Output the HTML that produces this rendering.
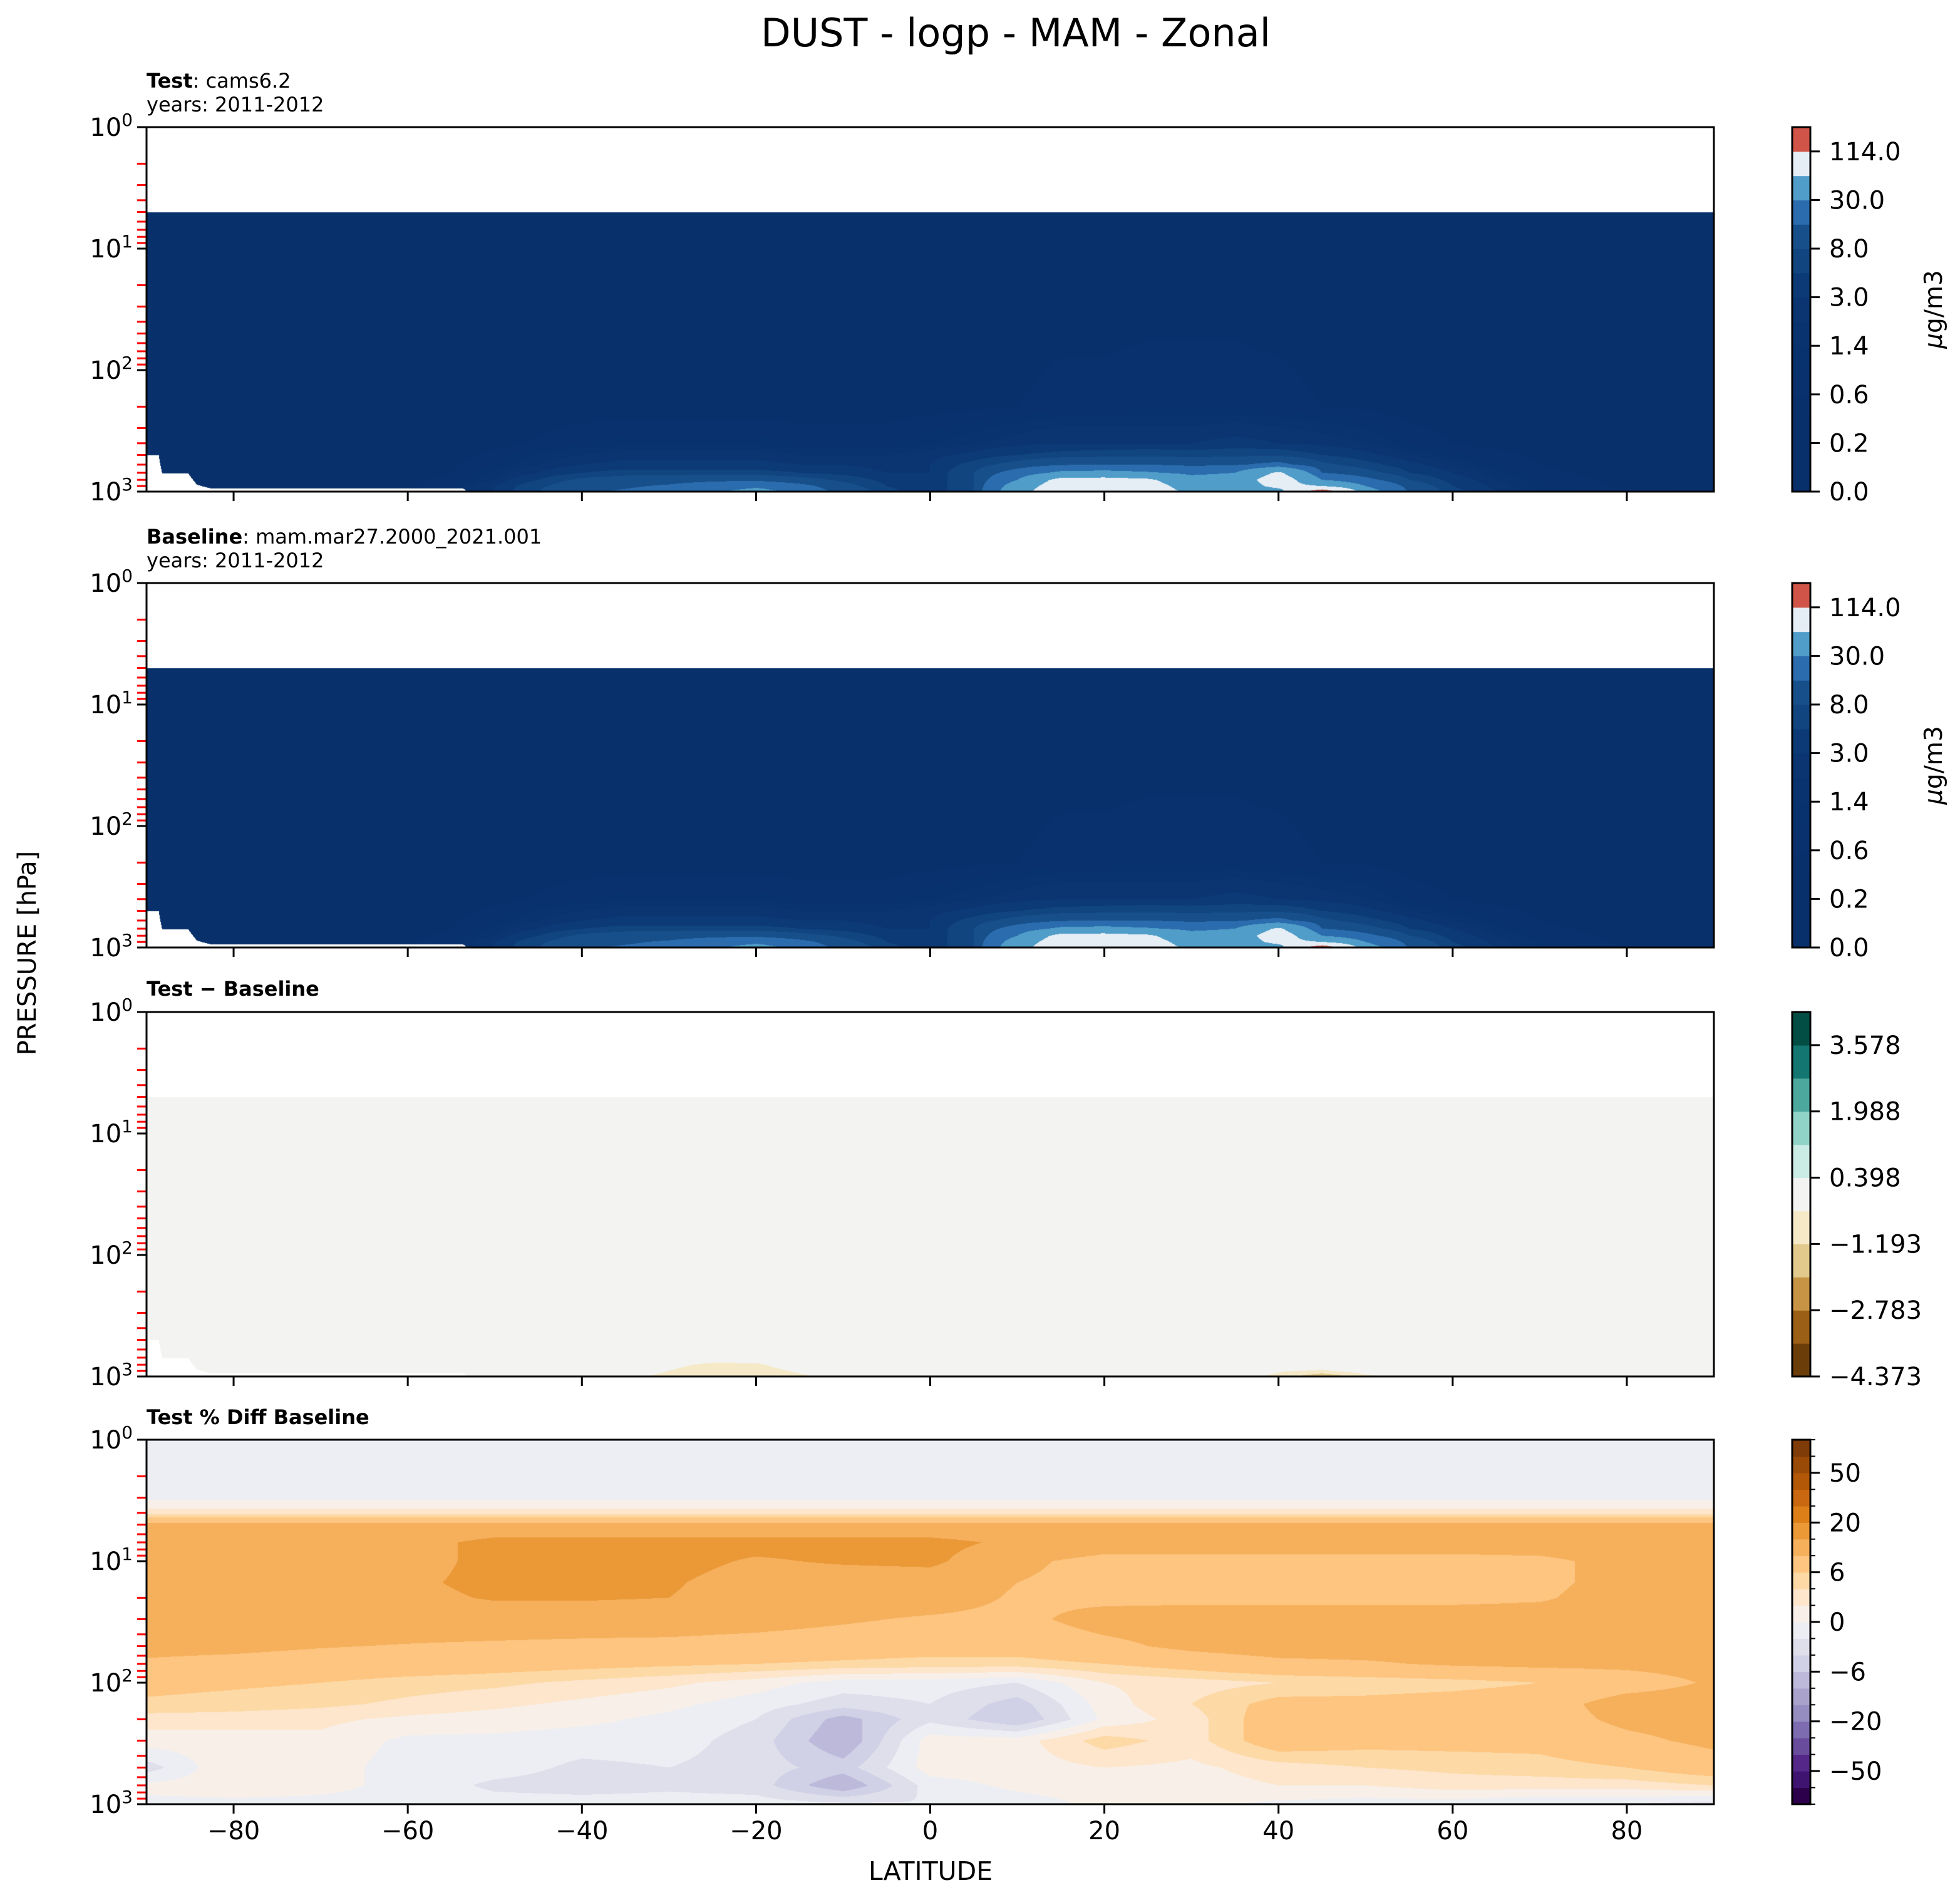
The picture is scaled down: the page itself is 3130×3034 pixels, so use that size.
<!DOCTYPE html>
<html><head><meta charset="utf-8">
<style>
html,body{margin:0;padding:0;background:#fff;}
#wrap{position:relative;width:3130px;height:3034px;overflow:hidden;font-family:"DejaVu Sans","Liberation Sans",sans-serif;}
canvas{position:absolute;}
svg{position:absolute;left:0;top:0;}
</style></head>
<body>
<div id="wrap">
<canvas id="c0" width="2503" height="582" style="left:234px;top:203px"></canvas>
<canvas id="c1" width="2503" height="582" style="left:234px;top:931px"></canvas>
<canvas id="c2" width="2503" height="582" style="left:234px;top:1616px"></canvas>
<canvas id="c3" width="2503" height="582" style="left:234px;top:2299px"></canvas>
<svg id="ov" width="3130" height="3034"></svg>
</div>
<script>
// ---------------- DATA ----------------
const lats5 = [-90,-85,-80,-75,-70,-65,-60,-55,-50,-45,-40,-35,-30,-25,-20,-15,-10,-5,0,5,10,15,20,25,30,35,40,45,50,55,60,65,70,75,80,85,90];
const lats10 = [-90,-80,-70,-60,-50,-40,-30,-20,-10,0,10,20,30,40,50,60,70,80,90];
const maskLats = [-90,-88.6,-88.2,-85.2,-84.2,-82.5,-53.6,-53.2,90];
const maskPres = [500,500,710,710,880,945,945,1001,1001];

const testLevels = [5,200,400,500,600,700,800,900,1000];
const testGrid = [
 [0.02,0.02,0.02,0.02,0.02,0.02,0.02,0.02,0.02,0.02,0.02,0.02,0.02,0.02,0.02,0.02,0.02,0.02,0.02,0.02,0.02,0.02,0.02,0.02,0.02,0.02,0.02,0.02,0.02,0.02,0.02,0.02,0.02,0.02,0.02,0.02,0.02],
 [0.05,0.05,0.05,0.05,0.05,0.05,0.05,0.1,0.15,0.2,0.3,0.3,0.3,0.3,0.3,0.3,0.3,0.3,0.4,0.5,0.6,0.8,0.8,0.9,0.9,0.9,0.8,0.6,0.5,0.3,0.2,0.15,0.1,0.1,0.05,0.05,0.05],
 [0.1,0.1,0.1,0.1,0.1,0.1,0.1,0.2,0.4,0.7,1,1.2,1.2,1.2,1.2,1,1,1,1.3,1.8,2.5,3,3,3,3,3.5,3,2.5,2,1,0.6,0.4,0.3,0.2,0.1,0.1,0.1],
 [0.1,0.1,0.1,0.1,0.1,0.1,0.2,0.4,0.8,1.5,2,2.5,2.5,2.5,2.5,2,2,2,2.5,3.5,5,6,6.5,7,6.5,7,7,5,3.5,2,1.2,0.8,0.5,0.3,0.2,0.1,0.1],
 [0.1,0.1,0.1,0.1,0.1,0.2,0.3,0.5,1,2,3,3.5,3.5,3.5,3.5,3,3,2.5,3,6,10,14,15,15,13,14,18,9,6,3.5,2,1,0.6,0.4,0.3,0.2,0.1],
 [0.1,0.1,0.1,0.1,0.2,0.2,0.3,0.6,1.5,3,5,6,6,6,6,5,4,3,3,8,20,34,36,32,26,30,65,15,10,5,3,1.5,0.8,0.5,0.3,0.2,0.2],
 [0.1,0.1,0.1,0.2,0.2,0.3,0.4,0.8,2,5,9,11,12,13,13,10,7,4,3,8,30,70,72,65,38,40,80,30,18,8,4,2,1,0.7,0.4,0.3,0.2],
 [0.2,0.2,0.2,0.2,0.2,0.3,0.5,1,3,7,12,14,16,20,25,18,10,5,3,8,40,80,85,75,45,40,70,60,30,12,5,2.5,1.2,0.8,0.5,0.4,0.3],
 [0.2,0.2,0.2,0.2,0.2,0.3,0.5,1,3,8,14,16,18,25,40,22,12,6,3,8,45,90,95,85,50,35,45,150,40,14,6,3,1.5,1,0.6,0.4,0.3]
];
const baselineLevels = testLevels;
const baselineGrid = testGrid;

const diffLevels = [5,700,800,900,1000];
const diffGrid = [
 [0,0,0,0,0,0,0,0,0,0,0,0,0,0,0,0,0,0,0,0,0,0,0,0,0,0,0,0,0,0,0,0,0,0,0,0,0],
 [0,0,0,0,0,0,0,0,0,0,0,0,0,0,0,0,0,0,0,0,0,0,0,0,0,0,0,0,0,0,0,0,0,0,0,0,0],
 [0,0,0,0,0,0,0,0,0,0,0,0,-0.2,-0.55,-0.5,0,0,0,0,0,0,0,0,0,0,0,0,0,0,0,0,0,0,0,0,0,0],
 [0,0,0,0,0,0,0,0,0,0,0,0,-0.4,-0.8,-0.7,-0.3,0,0,0,0,0,0,0,0,0,0,-0.3,-0.5,0,0,0,0,0,0,0,0,0],
 [0,0,0,0,0,0,0,0,0,0,0,-0.2,-0.6,-0.9,-0.9,-0.5,-0.2,0,0,0,0,0,0,0,0,0,-0.6,-2.0,-0.6,0,0,0,0,0,0,0,0]
];

const pctLevels = [1,3,4,5,7,10,15,20,30,50,70,100,150,200,300,500,700,1000];
const pctGrid = [
 [-1,-1,-1,-1,-1,-1,-1,-1,-1,-1,-1,-1,-1,-1,-1,-1,-1,-1,-1],
 [-0.5,-0.5,-0.5,-0.5,-0.5,-0.5,-0.5,-0.5,-0.5,-0.5,-0.5,-0.5,-0.5,-0.5,-0.5,-0.5,-0.5,-0.5,-0.5],
 [3,3,3,3,3,3,3,3,3,3,3,3,3,3,3,3,3,3,3],
 [11,11,11,11,11,11,11,11,11,11,11,11,11,11,11,11,11,11,11],
 [12,12,12,13,16.5,16.5,16.5,16.5,16.5,16.5,14,12.5,12.5,12.5,12.5,12.5,12.5,12.5,12.5],
 [12,12,12,13,16.5,16.5,16.5,14.5,15.5,16,11,8.5,8.5,8.5,8.5,8.5,9,11.5,12],
 [12,12,12,14,16.5,16.5,15.5,13,12.5,12.5,10,8.5,8.5,8.5,8.5,8.5,9,11.5,12],
 [12,12,12,13.5,15.5,15.5,15,13,12.5,12,9.5,9,9,9,9,9,9.5,12,12],
 [12,12,12,12,12,12,12,11.5,10.5,9.5,9,11.5,12,12,12,12,12,12,12],
 [11,10.8,10.2,9.8,9.5,9.2,9,8.5,8,7.5,7.5,9,11,12,12,12,12,12,12],
 [9.5,9,8.5,8,7.5,7,6.5,6,5.5,5,5,6,7.5,9,9.5,10.5,11,11,11.5],
 [7,6.5,6,5,4.5,3.5,2.5,1,-1,-1,-2,2,3,4,4.5,5,6,8,10.5],
 [5.5,5,4.5,3.5,2.5,1.5,0.5,-1,-3,-2,-5,1,4,7,7,7.5,8,12,12],
 [3,3,2.5,1.5,1,0.5,-0.5,-2,-7,-2.5,-6,0.5,3,8,7.5,7.5,8,11,12],
 [1,1,1.5,-0.5,-0.5,-1,-1,-3,-8,1,1,5,3,8,7,7,7,9,11],
 [-3,2,1,-1,-1,-2.5,-2,-3,-5,1,1,2,1.5,3,4,4.5,5,6,8],
 [0.5,1,0.5,-0.5,-2.5,-3,-2.5,-3,-8,-1,0.5,1,1,2,2,3,3,3,4],
 [-0.5,-0.5,-0.5,-0.5,-1,-1,-1,-1,-1.5,-2,-1,0.5,0.5,-0.5,-1,-1,-2,-2,-3]
];

// colour scales (boundaries + colours bottom->top)
const concBounds = [0,0.1,0.2,0.4,0.6,1.0,1.4,2.0,3.0,5.0,8.0,15,30,60,114,200];
const concColors = ["#08306b","#08306b","#08306b","#08316c","#08316d","#08326e","#09336f","#0a3571","#0c3a76","#114580","#174f8a","#2a6cae","#4f9dc8","#e5edf5","#d05548"];
const concTicks = ["0.0","0.2","0.6","1.4","3.0","8.0","30.0","114.0"];

const diffBounds = [-4.373,-3.578,-2.783,-1.988,-1.193,-0.398,0.398,1.193,1.988,2.783,3.578,4.373];
const diffColors = ["#6b3e09","#9b5f16","#c79344","#e1ca8b","#f5e9c8","#f3f4f2","#cbebe5","#90d4c7","#4ca89d","#147670","#024d44"];
const diffTicks = ["\u22124.373","\u22122.783","\u22121.193","0.398","1.988","3.578"];

const pctBounds = [-100,-70,-50,-40,-30,-20,-15,-10,-6,-4,-2,0,2,4,6,10,15,20,30,40,50,70,100];
const pctColors = ["#2d004b","#3f1470","#542788","#6a4c9d","#7d6caf","#958dbf","#a9a3cc","#bcb9da","#d0d0e6","#dfdfec","#edeef3","#f8f0e8","#fde6cc","#fdd9a5","#fdc57f","#f6b05c","#eb9837","#dc7f18","#c96810","#b35806","#9a4a07","#7f3b08"];
const pctTicks = ["\u221250","\u221220","\u22126","0","6","20","50"];

const latTicks = [-80,-60,-40,-20,0,20,40,60,80];
const presDecades = [0,1,2,3];

// ---------------- LAYOUT ----------------
const X0=234, W=2503, H=582;
const tops=[203,931,1616,2299];
const CBX=2862, CBW=29;
function xOf(lat){return X0+(lat+90)/180*W;}
function yOf(p,top){return top+Math.log10(p)/3*H;}
function hex(c){return [parseInt(c.substr(1,2),16),parseInt(c.substr(3,2),16),parseInt(c.substr(5,2),16)];}
function surfP(lat){
  for(let i=0;i<maskLats.length-1;i++){
    if(lat<=maskLats[i+1]){const s=(lat-maskLats[i])/(maskLats[i+1]-maskLats[i]);return maskPres[i]*(1-s)+maskPres[i+1]*s;}
  }
  return maskPres[maskPres.length-1];
}

function render(id,grid,levels,lats,bounds,colors,maskTop,useMask){
  const cv=document.getElementById(id), ctx=cv.getContext('2d');
  const img=ctx.createImageData(W,H), d=img.data;
  const rgb=colors.map(hex);
  const lls=levels.map(Math.log10);
  const nl=lats.length, step=(lats[nl-1]-lats[0])/(nl-1);
  const ps=new Float64Array(W);
  for(let x=0;x<W;x++) ps[x]=surfP(-90+(x+0.5)/W*180);
  for(let y=0;y<H;y++){
    const lp=(y+0.5)/H*3, p=Math.pow(10,lp);
    let blank=false, k=0, t=0;
    if(lp<lls[0]){ if(maskTop){blank=true;} else {k=0;t=0;} }
    else if(lp>=lls[lls.length-1]){k=lls.length-2;t=1;}
    else{ while(k<lls.length-2 && lp>lls[k+1]) k++; t=(lp-lls[k])/(lls[k+1]-lls[k]); }
    for(let x=0;x<W;x++){
      const o=(y*W+x)*4;
      if(blank){d[o+3]=0;continue;}
      if(useMask && p>ps[x]){d[o+3]=0;continue;}
      const lat=-90+(x+0.5)/W*180;
      let fi=(lat-lats[0])/step; let i=Math.min(nl-2,Math.max(0,Math.floor(fi))); let s=fi-i;
      const a=grid[k][i]*(1-s)+grid[k][i+1]*s;
      const b=grid[k+1][i]*(1-s)+grid[k+1][i+1]*s;
      const v=a*(1-t)+b*t;
      let c=0; while(c<colors.length-1 && v>=bounds[c+1]) c++;
      const col=rgb[c]; d[o]=col[0];d[o+1]=col[1];d[o+2]=col[2];d[o+3]=255;
    }
  }
  ctx.putImageData(img,0,0);
}
render('c0',testGrid,testLevels,lats5,concBounds,concColors,true,true);
render('c1',baselineGrid,baselineLevels,lats5,concBounds,concColors,true,true);
render('c2',diffGrid,diffLevels,lats5,diffBounds,diffColors,true,true);
render('c3',pctGrid,pctLevels,lats10,pctBounds,pctColors,false,false);

// ---------------- SVG ----------------
const NS='http://www.w3.org/2000/svg';
const svg=document.getElementById('ov');
function mk(tag,attrs,parent){const e=document.createElementNS(NS,tag);for(const k in attrs)e.setAttribute(k,attrs[k]);(parent||svg).appendChild(e);return e;}
function txt(s,attrs,parent){const e=mk('text',attrs,parent);e.textContent=s;return e;}

const FF='"DejaVu Sans","Liberation Sans",sans-serif';
const panelNames=['test','baseline','difference','percent-diff'];
const scales=[[concBounds,concColors,concTicks],[concBounds,concColors,concTicks],[diffBounds,diffColors,diffTicks],[pctBounds,pctColors,pctTicks]];

tops.forEach((top,pi)=>{
  const g=mk('g',{});
  
  
  for(let dec=0;dec<3;dec++){
    for(let m=2;m<=9;m++){
      const y=yOf(m*Math.pow(10,dec),top);
      const l=mk('line',{x1:X0-15,x2:X0,y1:y,y2:y,stroke:'#ff0000','stroke-width':3},g);
      
      
    }
  }
  presDecades.forEach(dec=>{
    const y=yOf(Math.pow(10,dec),top);
    const l=mk('line',{x1:X0-15,x2:X0,y1:y,y2:y,stroke:'#000','stroke-width':3},g);
    
    
    const t=mk('text',{x:X0-22,y:y+14,'text-anchor':'end','font-size':40,'font-family':FF,fill:'#000'},g);
    
    
    const a=document.createElementNS(NS,'tspan');a.textContent='10';t.appendChild(a);
    const b=document.createElementNS(NS,'tspan');b.textContent=String(dec);b.setAttribute('font-size','28');b.setAttribute('dy','-16');t.appendChild(b);
  });
  latTicks.forEach(lat=>{
    const x=xOf(lat);
    const l=mk('line',{x1:x,x2:x,y1:top+H,y2:top+H+15,stroke:'#000','stroke-width':3},g);
    
    
    if(pi===3){
      const t=txt((lat<0?'\u2212':'')+Math.abs(lat),{x:x,y:top+H+56,'text-anchor':'middle','font-size':40,'font-family':FF},g);
      
      
    }
  });
  const fr=mk('rect',{x:X0,y:top,width:W,height:H,fill:'none',stroke:'#000','stroke-width':3},g);
  
  

  const [bounds,colors,ticks]=scales[pi];
  const n=colors.length, sh=H/n;
  const cb=mk('g',{});
  
  
  colors.forEach((c,i)=>{
    const r=mk('rect',{x:CBX,y:top+H-(i+1)*sh,width:CBW,height:sh+0.6,fill:c},cb);
    
    
  });
  mk('rect',{x:CBX,y:top,width:CBW,height:H,fill:'none',stroke:'#000','stroke-width':3},cb);
  let ti=0;
  for(let i=0;i<=n;i++){
    const y=top+H-i*sh;
    let labeled=false;
    if(pi===3){ labeled = (i>=2 && i<=20 && (i-2)%3===0); }
    else if(pi===2){ labeled = (i%2===0 && i<=10); }
    else { labeled = (i%2===0 && i<=14); }
    if(labeled){
      const l=mk('line',{x1:CBX+CBW,x2:CBX+CBW+15,y1:y,y2:y,stroke:'#000','stroke-width':3},cb);
      
      
      const t=txt(ticks[ti++],{x:CBX+CBW+30,y:y+14,'font-size':40,'font-family':FF},cb);
      
      
    } else if(pi===3){
      const l=mk('line',{x1:CBX+CBW,x2:CBX+CBW+8,y1:y,y2:y,stroke:'#000','stroke-width':2},cb);
      
      
    }
  }
});
</script>
<script>
(function(){
const NS='http://www.w3.org/2000/svg', svg=document.getElementById('ov');
const FF='"DejaVu Sans","Liberation Sans",sans-serif';
function t(s,a,name){const e=document.createElementNS(NS,'text');for(const k in a)e.setAttribute(k,a[k]);e.setAttribute('font-family',FF);e.textContent=s;svg.appendChild(e);
 
 
 return e;}
function rich(bold,rest,x,y,name){const e=document.createElementNS(NS,'text');e.setAttribute('x',x);e.setAttribute('y',y);e.setAttribute('font-size','32');e.setAttribute('font-family',FF);
 const b=document.createElementNS(NS,'tspan');b.setAttribute('font-weight','bold');b.textContent=bold;e.appendChild(b);
 if(rest){const r=document.createElementNS(NS,'tspan');r.textContent=rest;e.appendChild(r);}
 svg.appendChild(e);
 
 }
function unit(cy,name){const e=document.createElementNS(NS,'text');e.setAttribute('font-size','39');e.setAttribute('font-family',FF);e.setAttribute('text-anchor','middle');e.setAttribute('dominant-baseline','central');e.setAttribute('transform','translate(3088,'+cy+') rotate(-90)');
 const m=document.createElementNS(NS,'tspan');m.setAttribute('font-style','italic');m.textContent='\u03bc';e.appendChild(m);
 const r=document.createElementNS(NS,'tspan');r.textContent='g/m3';e.appendChild(r);
 svg.appendChild(e);
 
 }
t('DUST - logp - MAM - Zonal',{x:1622,y:74,'text-anchor':'middle','font-size':62},'figure-title');
rich('Test',': cams6.2',234,140,'test-title');
t('years: 2011-2012',{x:234,y:178,'font-size':32},'test-years');
rich('Baseline',': mam.mar27.2000_2021.001',234,868,'baseline-title');
t('years: 2011-2012',{x:234,y:906,'font-size':32},'baseline-years');
rich('Test \u2212 Baseline','',234,1590,'difference-title');
rich('Test % Diff Baseline','',234,2274,'percent-diff-title');
t('PRESSURE [hPa]',{x:0,y:0,'font-size':40,'text-anchor':'middle','dominant-baseline':'central',transform:'translate(44,1522) rotate(-90)'},'y-axis-title');
t('LATITUDE',{x:1486,y:3002,'font-size':41,'text-anchor':'middle'},'x-axis-title');
unit(494,'test-colorbar-label');
unit(1222,'baseline-colorbar-label');
})();
</script>
</body></html>
